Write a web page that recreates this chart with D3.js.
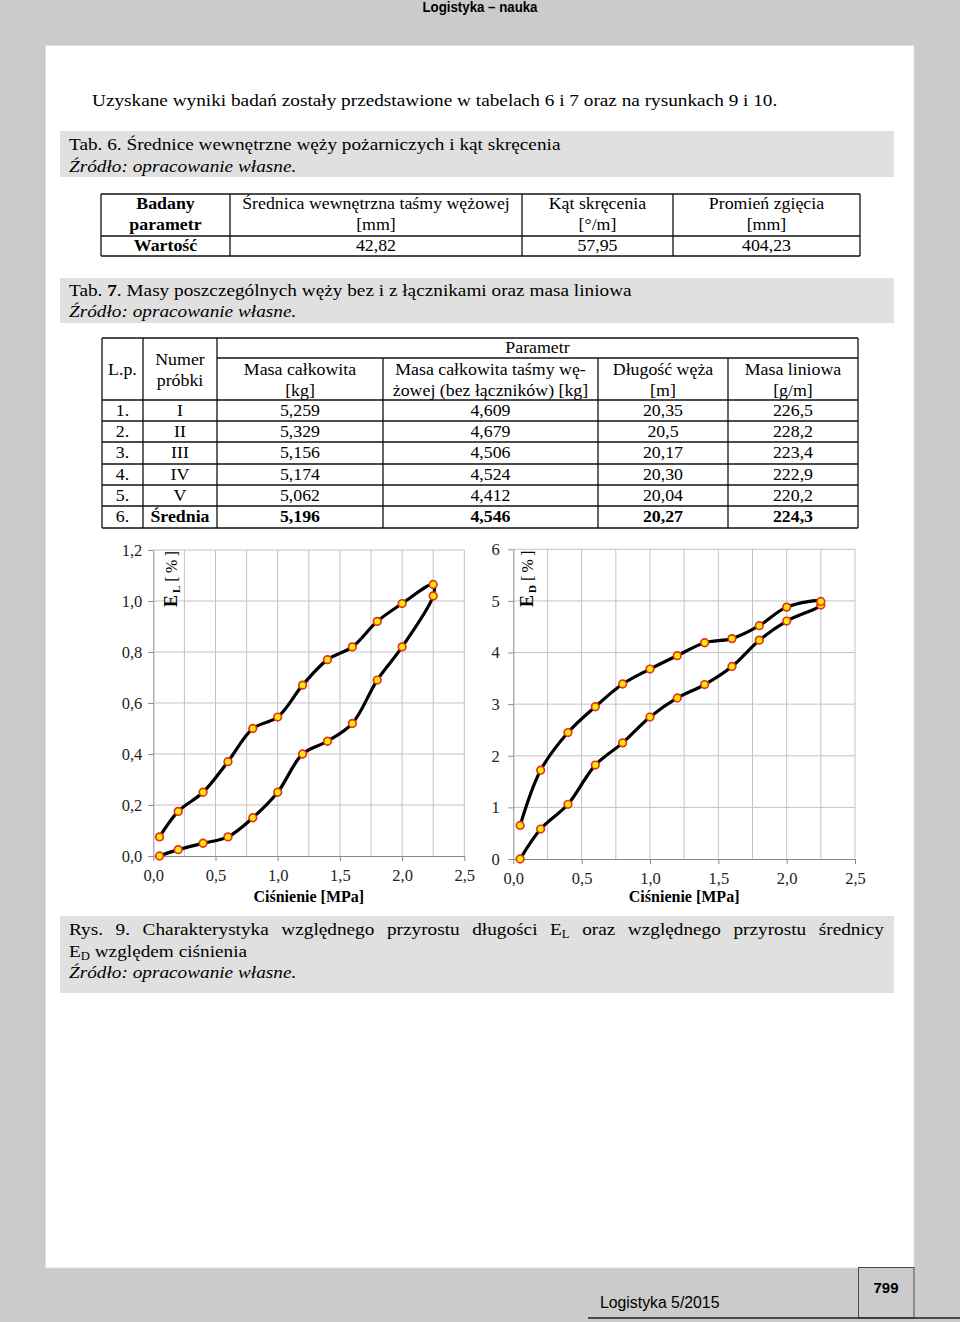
<!DOCTYPE html>
<html>
<head>
<meta charset="utf-8">
<script src="https://cdn.jsdelivr.net/npm/d3@7"></script>
<style>
  body { margin: 0; background: #cbcbcb; }
  svg { display: block; }
</style>
</head>
<body>
<script>
// ---- data: tab. 6 ----
const tab6Head = [["Badany", "parametr"], ["Średnica wewnętrzna taśmy wężowej", "[mm]"], ["Kąt skręcenia", "[°/m]"], ["Promień zgięcia", "[mm]"]];
const tab6Values = ["Wartość", "42,82", "57,95", "404,23"];

// ---- data: tab. 7 ----
const tab7Head = [["Masa całkowita", "[kg]"], ["Masa całkowita taśmy wę-", "żowej (bez łączników) [kg]"], ["Długość węża", "[m]"], ["Masa liniowa", "[g/m]"]];
const tab7Lp = ["1.", "2.", "3.", "4.", "5.", "6."];
const tab7Numer = ["I", "II", "III", "IV", "V", "Średnia"];
const tab7MasaCalk = ["5,259", "5,329", "5,156", "5,174", "5,062", "5,196"];
const tab7MasaTasmy = ["4,609", "4,679", "4,506", "4,524", "4,412", "4,546"];
const tab7Dlugosc = ["20,35", "20,5", "20,17", "20,30", "20,04", "20,27"];
const tab7MasaLin = ["226,5", "228,2", "223,4", "222,9", "220,2", "224,3"];

// ---- data: rys. 9 ----
const pressure = [0.05, 0.2, 0.4, 0.6, 0.8, 1.0, 1.2, 1.4, 1.6, 1.8, 2.0, 2.25];      // MPa
const elLoad = [0, 0.025, 0.05, 0.075, 0.15, 0.25, 0.40, 0.45, 0.52, 0.69, 0.82, 1.02];
const elUnload = [0.075, 0.175, 0.25, 0.37, 0.50, 0.545, 0.67, 0.77, 0.82, 0.92, 0.99, 1.065];
const edLoad = [0, 0.58, 1.06, 1.82, 2.25, 2.75, 3.12, 3.38, 3.73, 4.24, 4.61, 4.92];
const edUnload = [0.65, 1.72, 2.45, 2.95, 3.39, 3.68, 3.94, 4.19, 4.27, 4.52, 4.88, 4.99];
const xTicks = [0, 0.5, 1.0, 1.5, 2.0, 2.5];
const xGrid = [0.25, 0.5, 0.75, 1.0, 1.25, 1.5, 1.75, 2.0, 2.25, 2.5];
const elTicks = [0, 0.2, 0.4, 0.6, 0.8, 1.0, 1.2];
const edTicks = [0, 1, 2, 3, 4, 5, 6];

const serif = '"Liberation Serif", "Times New Roman", serif';
const sans = '"Liberation Sans", Arial, sans-serif';
const bodySize = 17.5, bodyStretch = 1.1;
const cellSize = 16.5, cellStretch = 1.08;
const pl = d3.formatLocale({decimal: ",", thousands: "\u00a0", grouping: [3], currency: ["", " zł"]});

const svg = d3.select('body').append('svg')
    .attr('width', 960)
    .attr('height', 1322);

// the scanned page uses a slightly wider serif than Liberation Serif
const stretch = (sel, k) => {
    const w = sel.node().getComputedTextLength();
    sel.attr('textLength', w * k).attr('lengthAdjust', 'spacingAndGlyphs');
    return sel;
};

svg.append('rect').attr('width', 960).attr('height', 1322).attr('fill', '#cbcbcb');
svg.append('rect')
    .attr('x', 45.5).attr('y', 45.5).attr('width', 868.5).attr('height', 1222.5)
    .attr('fill', '#fff').attr('stroke', '#dedede');

// running head
svg.append('text')
    .attr('x', 480).attr('y', 12)
    .attr('text-anchor', 'middle')
    .attr('font-family', '"Liberation Sans Narrow", "Arial Narrow", ' + sans)
    .attr('font-weight', 'bold').attr('font-size', 14.5)
    .attr('textLength', 115).attr('lengthAdjust', 'spacingAndGlyphs')
    .text('Logistyka – nauka');

const txt = (x, y, size) => svg.append('text')
    .attr('x', x).attr('y', y)
    .attr('font-family', serif).attr('font-size', size || bodySize);
const body = (x, y) => txt(x, y, bodySize);
const cell = (x, y, s, bold) => stretch(txt(x, y, cellSize)
    .attr('text-anchor', 'middle')
    .attr('font-weight', bold ? 'bold' : null)
    .text(s), cellStretch);

stretch(body(92, 105.5).text('Uzyskane wyniki badań zostały przedstawione w tabelach 6 i 7 oraz na rysunkach 9 i 10.'), bodyStretch);

// caption boxes
[[131, 46], [278, 45], [916, 77]].forEach(b => {
    svg.append('rect').attr('x', 60).attr('y', b[0]).attr('width', 834).attr('height', b[1]).attr('fill', '#e0e0e0');
});

stretch(body(69, 150).text('Tab. 6. Średnice wewnętrzne węży pożarniczych i kąt skręcenia'), bodyStretch);
stretch(body(69, 172).attr('font-style', 'italic').text('Źródło: opracowanie własne.'), bodyStretch);

let t7 = body(69, 296);
t7.append('tspan').text('Tab. ');
t7.append('tspan').attr('font-weight', 'bold').text('7');
t7.append('tspan').text('. Masy poszczególnych węży bez i z łącznikami oraz masa liniowa');
stretch(t7, bodyStretch);
stretch(body(69, 317).attr('font-style', 'italic').text('Źródło: opracowanie własne.'), bodyStretch);

// ---- table 6 ----
const cols6 = [101, 230, 522, 673, 860];
const rows6 = [194, 236, 256];
const line = (x1, y1, x2, y2) => svg.append('line')
    .attr('x1', x1).attr('y1', y1).attr('x2', x2).attr('y2', y2)
    .attr('stroke', '#111').attr('stroke-width', 1.3);

rows6.forEach(r => line(cols6[0], r, cols6[4], r));
cols6.forEach(c => line(c, rows6[0], c, rows6[2]));
tab6Head.forEach((h, i) => {
    const cx = (cols6[i] + cols6[i + 1]) / 2;
    h.forEach((s, j) => cell(cx, 209 + j * 21, s, i === 0));
});
tab6Values.forEach((v, i) => {
    cell((cols6[i] + cols6[i + 1]) / 2, 251, v, i === 0);
});

// ---- table 7 ----
const cols7 = [102, 143, 217, 383, 598, 728, 858];
const rows7 = [338, 358, 400, 421, 442, 464, 485, 506, 528];
line(cols7[0], rows7[0], cols7[6], rows7[0]);
line(cols7[2], rows7[1], cols7[6], rows7[1]);
rows7.slice(2).forEach(r => line(cols7[0], r, cols7[6], r));
cols7.forEach((c, i) => line(c, i < 3 || i === 6 ? rows7[0] : rows7[1], c, rows7[8]));

const mid7 = i => (cols7[i] + cols7[i + 1]) / 2;
cell((cols7[2] + cols7[6]) / 2, 353, 'Parametr');
cell(mid7(0), 375, 'L.p.');
cell(mid7(1), 365, 'Numer');
cell(mid7(1), 386, 'próbki');
tab7Head.forEach((h, i) => {
    h.forEach((s, j) => cell(mid7(i + 2), 375 + j * 21, s));
});
const tab7Cols = [tab7Lp, tab7Numer, tab7MasaCalk, tab7MasaTasmy, tab7Dlugosc, tab7MasaLin];
tab7Cols.forEach((col, ci) => {
    col.forEach((v, ri) => cell(mid7(ci), rows7[ri + 2] + 16, v, ri === 5 && ci > 0));
});

// ---- charts ----
function drawChart(c) {
    const x = d3.scaleLinear().domain([0, 2.5]).range([c.left, c.right]);
    const y = d3.scaleLinear().domain([0, c.yMax]).range([c.bottom, c.top]);
    const g = svg.append('g');

    g.selectAll('.vgrid').data(xGrid).enter().append('line')
        .attr('x1', d => x(d)).attr('x2', d => x(d))
        .attr('y1', y(0)).attr('y2', y(c.yMax))
        .attr('stroke', '#c3c3c3').attr('stroke-width', 1);
    g.selectAll('.hgrid').data(c.yTicks.slice(1)).enter().append('line')
        .attr('x1', x(0)).attr('x2', x(2.5))
        .attr('y1', d => y(d)).attr('y2', d => y(d))
        .attr('stroke', '#c3c3c3').attr('stroke-width', 1);

    const yAxis = g.append('g')
        .attr('transform', 'translate(' + x(0) + ',0)')
        .call(d3.axisLeft(y).tickValues(c.yTicks).tickFormat(pl.format(c.yFmt))
            .tickSize(5).tickSizeOuter(0).tickPadding(c.yPad));
    const xAxis = g.append('g')
        .attr('transform', 'translate(0,' + y(0) + ')')
        .call(d3.axisBottom(x).tickValues(xTicks).tickFormat(pl.format('.1f'))
            .tickSize(5).tickSizeOuter(0).tickPadding(8.5));
    [yAxis, xAxis].forEach(a => {
        a.select('.domain').attr('stroke', '#8a8a8a');
        a.selectAll('.tick line').attr('stroke', '#8a8a8a');
        a.selectAll('text').attr('font-family', serif).attr('font-size', 16.5).attr('fill', '#222');
    });

    g.append('text')
        .attr('x', (c.left + c.right) / 2).attr('y', 902)
        .attr('text-anchor', 'middle')
        .attr('font-family', serif).attr('font-weight', 'bold').attr('font-size', 16)
        .text('Ciśnienie [MPa]');

    const lab = g.append('text')
        .attr('transform', 'translate(' + c.labX + ',607) rotate(-90)')
        .attr('font-family', serif).attr('font-size', 16);
    lab.append('tspan').attr('font-weight', 'bold').attr('font-size', 18).text('E');
    lab.append('tspan').attr('font-weight', 'bold').attr('font-size', 11).attr('dx', 2).attr('dy', 3).text(c.sub);
    lab.append('tspan').attr('dy', -3).text(' [\u2009%\u2009]');

    const pts = pressure.map((p, i) => [p, c.load[i]])
        .concat(pressure.map((p, i) => [p, c.unload[i]]).reverse());

    g.append('path')
        .datum(pts)
        .attr('fill', 'none')
        .attr('stroke', '#000')
        .attr('stroke-width', 3.2)
        .attr('stroke-linejoin', 'round')
        .attr('d', d3.line()
            .x(d => x(d[0]))
            .y(d => y(d[1]))
            .curve(d3.curveCatmullRom.alpha(0.5)));

    g.selectAll('.pt').data(pts).enter().append('circle')
        .attr('cx', d => x(d[0])).attr('cy', d => y(d[1]))
        .attr('r', 3.8)
        .attr('fill', '#ffec00')
        .attr('stroke', '#e3341c')
        .attr('stroke-width', 1.7);
}

drawChart({left: 153.3, right: 464.3, top: 550, bottom: 856, yMax: 1.2, yTicks: elTicks, yFmt: '.1f',
    yPad: 6, labX: 177, sub: 'L', load: elLoad, unload: elUnload});
drawChart({left: 513.3, right: 855, top: 549.3, bottom: 859, yMax: 6, yTicks: edTicks, yFmt: 'd',
    yPad: 8.5, labX: 533, sub: 'D', load: edLoad, unload: edUnload});

// ---- figure caption (justified first line) ----
const cap = body(69, 935);
cap.append('tspan').text('Rys. 9. Charakterystyka względnego przyrostu długości E');
cap.append('tspan').attr('font-size', 11.5).attr('dy', 3).text('L');
cap.append('tspan').attr('dy', -3).text(' oraz względnego przyrostu średnicy');
const capW = cap.node().getComputedTextLength();
const spaces = cap.text().split(' ').length - 1;
cap.attr('word-spacing', Math.max(0, ((884 - 69) / bodyStretch - capW) / spaces))
    .attr('textLength', 884 - 69).attr('lengthAdjust', 'spacingAndGlyphs');

const cap2 = body(69, 957);
cap2.append('tspan').text('E');
cap2.append('tspan').attr('font-size', 11.5).attr('dy', 3).text('D');
cap2.append('tspan').attr('dy', -3).text(' względem ciśnienia');
stretch(cap2, bodyStretch);
stretch(body(69, 978).attr('font-style', 'italic').text('Źródło: opracowanie własne.'), bodyStretch);

// ---- footer ----
svg.append('rect')
    .attr('x', 858.5).attr('y', 1267.5).attr('width', 55.5).attr('height', 50.5)
    .attr('fill', '#cbcbcb').attr('stroke', '#4a4a4a').attr('stroke-width', 1);
svg.append('line')
    .attr('x1', 588).attr('x2', 960).attr('y1', 1318).attr('y2', 1318)
    .attr('stroke', '#222').attr('stroke-width', 1.6);
svg.append('text')
    .attr('x', 886).attr('y', 1293)
    .attr('text-anchor', 'middle')
    .attr('font-family', sans).attr('font-weight', 'bold').attr('font-size', 15)
    .text('799');
svg.append('text')
    .attr('x', 600).attr('y', 1308)
    .attr('font-family', sans).attr('font-size', 15.8)
    .text('Logistyka 5/2015');
</script>
</body>
</html>
